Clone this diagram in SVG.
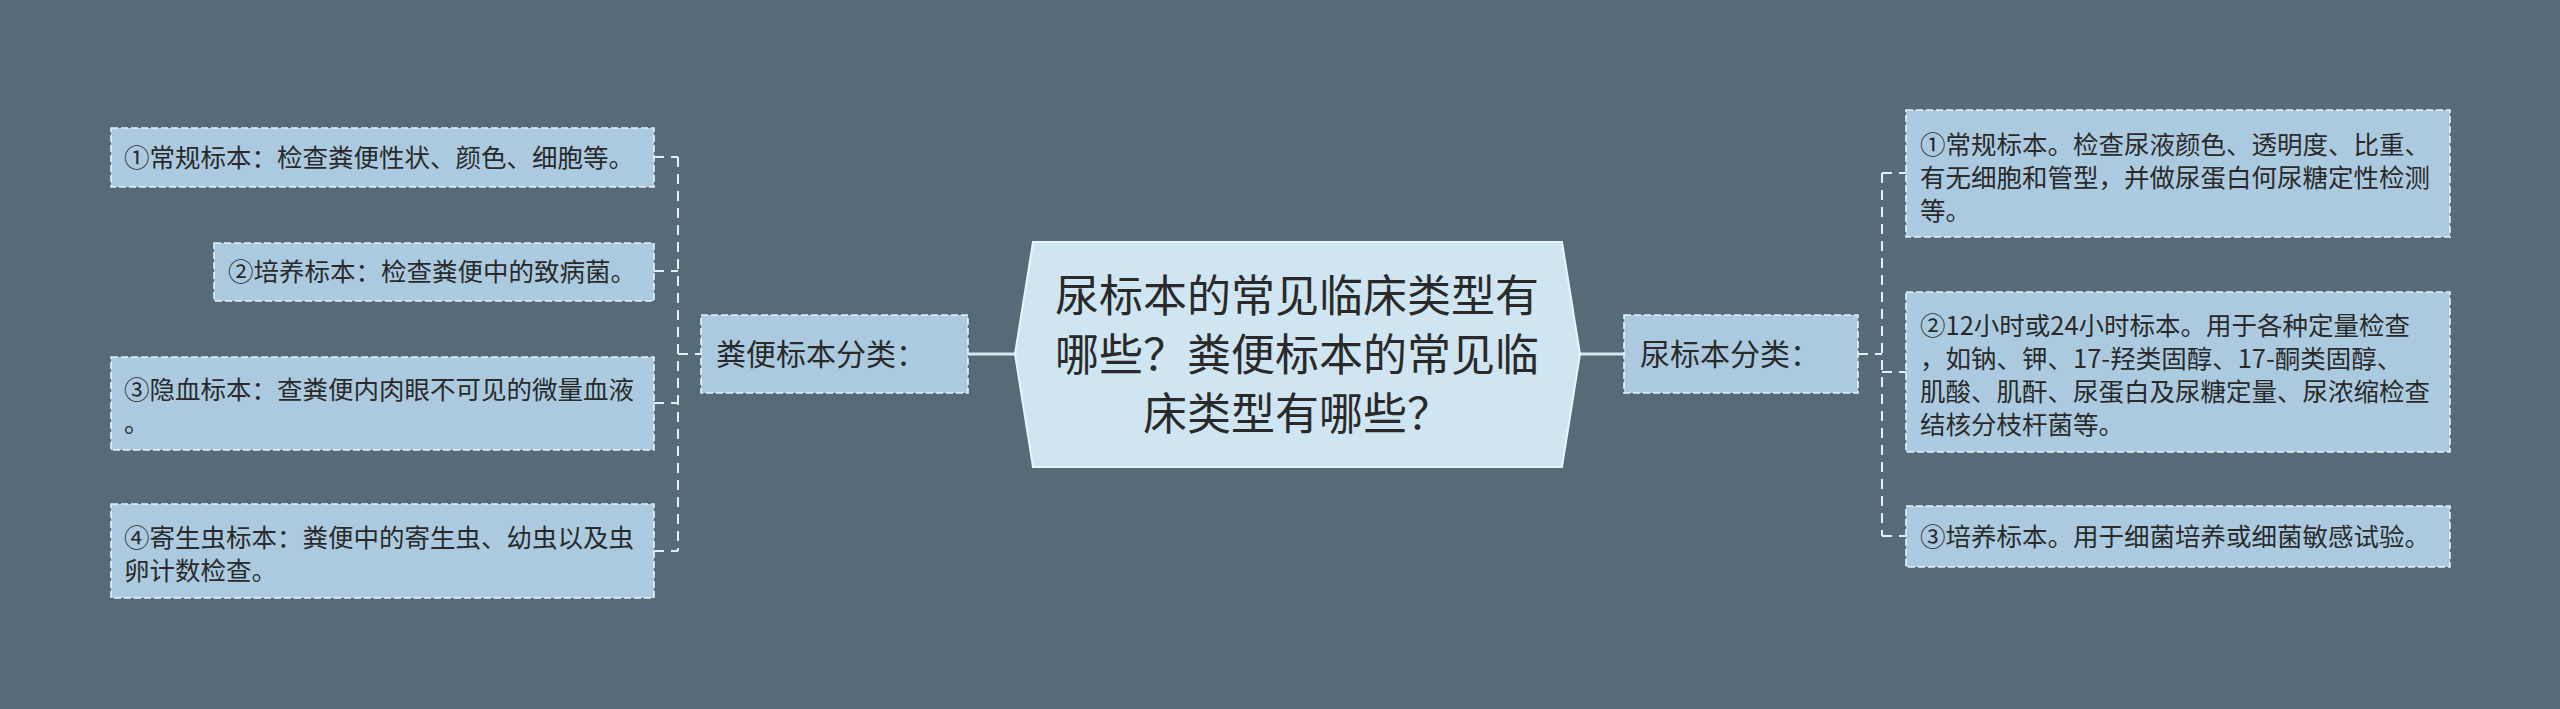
<svg xmlns="http://www.w3.org/2000/svg" width="2560" height="709" viewBox="0 0 2560 709">
<style>
.bg{fill:#556b7a}
.box{fill:#abcae0;stroke:#e6f1f8;stroke-width:1.6;stroke-dasharray:7 3}
.center{fill:#cfe5f1;stroke:#e9f3f9;stroke-width:2}
.t{font-family:"Noto Sans CJK SC","Liberation Sans",sans-serif;fill:#2a2a2a}
.leaf{font-size:25.5px}
.br{font-size:30px}
.ct{font-size:44px}
.dash{stroke:#e3eef5;stroke-width:2;fill:none;stroke-dasharray:10 7}
.solid{stroke:#d8e8f2;stroke-width:3;fill:none}
</style>
<rect class="bg" x="0" y="0" width="2560" height="709"/>
<g id="connectors">
<path class="dash" d="M678 157V551M654 157H678M654 271H678M654 403H678M654 551H678M678 354H701"/>
<path class="dash" d="M1882 173V536M1882 173H1906M1882 372H1906M1882 536H1906M1858 354H1882"/>
<path class="solid" d="M968 354H1015M1580 354H1624"/>
</g>
<g id="center">
<polygon class="center" points="1015,354 1033,242 1562,242 1580,354 1562,467 1033,467"/>
<text class="t ct" text-anchor="middle" x="1297" y="312">尿标本的常见临床类型有</text>
<text class="t ct" text-anchor="middle" x="1297" y="371">哪些？粪便标本的常见临</text>
<text class="t ct" text-anchor="middle" x="1297" y="430">床类型有哪些？</text>
</g>
<g id="branch-left">
<rect class="box" x="701" y="315" width="267" height="78"/>
<text class="t br" x="716" y="365">粪便标本分类：</text>
</g>
<g id="branch-right">
<rect class="box" x="1624" y="315" width="234" height="78"/>
<text class="t br" x="1640" y="365">尿标本分类：</text>
</g>
<g id="left-1">
<rect class="box" x="111" y="128" width="543" height="59"/>
<text class="t leaf" x="124" y="167">①常规标本：检查粪便性状、颜色、细胞等。</text>
</g>
<g id="left-2">
<rect class="box" x="214" y="243" width="440" height="58"/>
<text class="t leaf" x="228" y="281">②培养标本：检查粪便中的致病菌。</text>
</g>
<g id="left-3">
<rect class="box" x="111" y="357" width="543" height="93"/>
<text class="t leaf" x="124" y="399">③隐血标本：查粪便内肉眼不可见的微量血液</text>
<text class="t leaf" x="124" y="432">。</text>
</g>
<g id="left-4">
<rect class="box" x="111" y="504" width="543" height="94"/>
<text class="t leaf" x="124" y="547">④寄生虫标本：粪便中的寄生虫、幼虫以及虫</text>
<text class="t leaf" x="124" y="580">卵计数检查。</text>
</g>
<g id="right-1">
<rect class="box" x="1906" y="110" width="544" height="127"/>
<text class="t leaf" x="1920" y="154">①常规标本。检查尿液颜色、透明度、比重、</text>
<text class="t leaf" x="1920" y="187">有无细胞和管型，并做尿蛋白何尿糖定性检测</text>
<text class="t leaf" x="1920" y="220">等。</text>
</g>
<g id="right-2">
<rect class="box" x="1906" y="292" width="544" height="160"/>
<text class="t leaf" x="1920" y="335">②12小时或24小时标本。用于各种定量检查</text>
<text class="t leaf" x="1920" y="368">，如钠、钾、17-羟类固醇、17-酮类固醇、</text>
<text class="t leaf" x="1920" y="401">肌酸、肌酐、尿蛋白及尿糖定量、尿浓缩检查</text>
<text class="t leaf" x="1920" y="434">结核分枝杆菌等。</text>
</g>
<g id="right-3">
<rect class="box" x="1906" y="506" width="544" height="61"/>
<text class="t leaf" x="1920" y="546">③培养标本。用于细菌培养或细菌敏感试验。</text>
</g>
</svg>
